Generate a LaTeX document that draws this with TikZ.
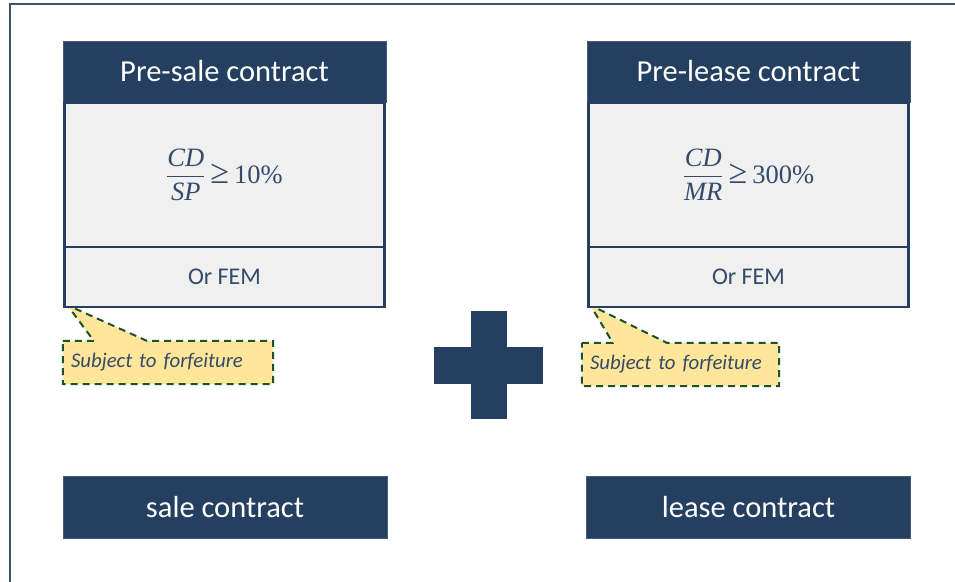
\documentclass[tikz,border=0pt]{standalone}
\usepackage{fontspec}
\setmainfont{Carlito}
\newfontfamily\formfont{Liberation Serif}
\usepackage{amsmath}
\usetikzlibrary{positioning,calc,backgrounds}

\definecolor{navy}{RGB}{36,63,95}
\definecolor{boxgray}{RGB}{240,240,240}
\definecolor{textblue}{RGB}{52,74,106}
\definecolor{notegold}{RGB}{255,230,153}
\definecolor{notegreen}{RGB}{28,82,42}
\definecolor{framecol}{RGB}{62,82,112}

\newcommand{\ratiofrac}[2]{$\dfrac{\text{\itshape #1}}{\text{\itshape #2}}$}
\newcommand{\atleast}{\hspace{5pt}{\fontsize{34}{34}\selectfont ≥}\hspace{5pt}}

\tikzset{
  head/.style={fill=navy, draw=navy!85!white, line width=0.6pt, text=white,
    minimum width=323pt, minimum height=61pt, inner sep=0pt,
    font=\fontsize{30.5}{36}\selectfont},
  ratio/.style={fill=boxgray, minimum width=320pt, minimum height=144pt,
    inner sep=0pt, text=textblue, font=\fontsize{26.5}{30}\selectfont\formfont},
  fem/.style={fill=boxgray, minimum width=320pt, minimum height=60pt,
    inner sep=0pt, text=textblue, font=\fontsize{24}{28}\selectfont},
  note/.style={minimum height=43pt, inner xsep=8pt, inner ysep=0pt,
    align=left, text=textblue, font=\fontsize{20.8}{24}\selectfont\itshape},
  noteshape/.style={fill=notegold, draw=notegreen, line width=2pt,
    dash pattern=on 7pt off 5pt},
  outline/.style={draw=navy, line width=2.5pt},
}

\begin{document}
\begin{tikzpicture}[x=1pt, y=-1pt]
  \useasboundingbox (0,0) rectangle (955,581);
  \draw[framecol, line width=2pt] (962,4) -- (10,4) -- (10,590);

  % pre-sale side
  \node[head] (presale) at (224.5,71.5) {Pre-sale contract};
  \node[ratio, below=0pt of presale] (saleratio) {\ratiofrac{CD}{SP}\atleast 10\%};
  \node[fem, below=0pt of saleratio] (salefem) {Or FEM};
  \draw[outline] (saleratio.north west) rectangle (salefem.south east);
  \draw[navy, line width=2pt] (saleratio.south west) -- (saleratio.south east);

  % pre-lease side
  \node[head] (prelease) at (748.5,71.5) {Pre-lease contract};
  \node[ratio, below=0pt of prelease] (leaseratio) {\ratiofrac{CD}{MR}\atleast 300\%};
  \node[fem, below=0pt of leaseratio] (leasefem) {Or FEM};
  \draw[outline] (leaseratio.north west) rectangle (leasefem.south east);
  \draw[navy, line width=2pt] (leaseratio.south west) -- (leaseratio.south east);

  % callouts
  \node[note, text width=194pt] (salenote) at (168,362.5) {Subject to forfeiture};
  \node[note, text width=181pt] (leasenote) at (680.5,364.5) {Subject to forfeiture};
  \begin{scope}[on background layer]
    \draw[noteshape] (salenote.north west) -- ($(salenote.north west)+(31,0)$)
      -- ($(salefem.south west)+(3,-2)$) -- ($(salenote.north west)+(84,0)$)
      -- (salenote.north east) -- (salenote.south east) -- (salenote.south west) -- cycle;
    \draw[noteshape] (leasenote.north west) -- ($(leasenote.north west)+(31,0)$)
      -- ($(leasefem.south west)+(2,-2)$) -- ($(leasenote.north west)+(85,0)$)
      -- (leasenote.north east) -- (leasenote.south east) -- (leasenote.south west) -- cycle;
  \end{scope}

  % plus sign
  \fill[navy] (471,311) rectangle (507,419);
  \fill[navy] (434,347) rectangle (543,384);

  % final contracts
  \node[head, minimum width=324pt, minimum height=62pt] (sale) at (225,507) {sale contract};
  \node[head, minimum width=324pt, minimum height=62pt] (lease) at (748.5,507) {lease contract};
\end{tikzpicture}
\end{document}
